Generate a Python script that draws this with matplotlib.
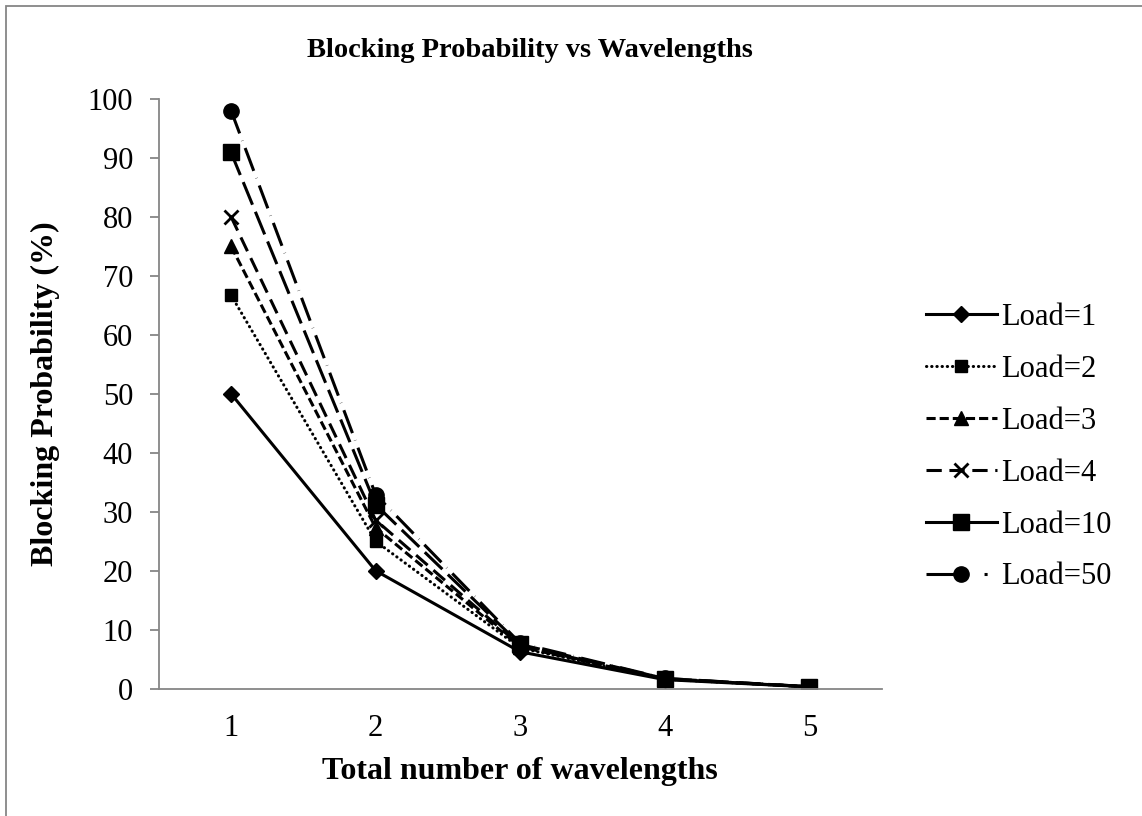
import matplotlib
matplotlib.use("Agg")
import matplotlib.pyplot as plt
from matplotlib.patches import Rectangle

plt.rcParams['font.family'] = ['Liberation Serif', 'DejaVu Serif']

wavelengths = [1, 2, 3, 4, 5]
loads = ['Load=1', 'Load=2', 'Load=3', 'Load=4', 'Load=10', 'Load=50']

# blocking probability (%) per load, one value per wavelength count
load_1 = [50.0, 20.0, 6.25, 1.54, 0.31]
load_2 = [66.7, 25.0, 6.9, 1.60, 0.32]
load_3 = [75.0, 27.3, 7.1, 1.65, 0.33]
load_4 = [80.0, 28.6, 7.3, 1.68, 0.33]
load_10 = [90.9, 31.2, 7.5, 1.72, 0.34]
load_50 = [98.0, 32.9, 7.7, 1.75, 0.34]
series = [load_1, load_2, load_3, load_4, load_10, load_50]

styles = [
    dict(ls='-', marker='D', ms=8),
    dict(ls=(0, (0.1, 1.6)), dash_capstyle='round', marker='s', ms=8),
    dict(ls=(0, (3, 1.3)), marker='^', ms=10),
    dict(ls=(0, (5, 2.5)), marker='x', ms=10, mew=2),
    dict(ls=(0, (8, 2.5)), marker='s', ms=11),
    dict(ls=(0, (8, 2.5, 0.1, 2.5)), marker='o', ms=11),
]

fig = plt.figure(figsize=(11.42, 8.16), dpi=100)
ax = fig.add_axes([0.139, 0.156, 0.633, 0.723])

for name, vals, st in zip(loads, series, styles):
    ax.plot(wavelengths, vals, color='black', lw=2.2, label=name, **st)

gray = '#868686'
ax.set_xlim(0.5, 5.5)
ax.set_ylim(0, 100)
ax.set_yticks(range(0, 101, 10))
ax.set_xticks(wavelengths)
for s in ['top', 'right']:
    ax.spines[s].set_visible(False)
for s in ['left', 'bottom']:
    ax.spines[s].set_color(gray)
    ax.spines[s].set_linewidth(1.3)
ax.tick_params(axis='y', length=6.5, width=1.3, color=gray, labelsize=22, pad=12)
ax.tick_params(axis='x', length=0, labelsize=22, pad=18)

ax.set_xlabel('Total number of wavelengths', fontsize=23, fontweight='bold', labelpad=10)
ax.set_ylabel('Blocking Probability (%)', fontsize=23, fontweight='bold', labelpad=20)
fig.text(0.464, 0.930, 'Blocking Probability vs Wavelengths', ha='center', va='baseline',
         fontsize=20.5, fontweight='bold')

leg = fig.legend(loc='center left', bbox_to_anchor=(0.787, 0.452), frameon=False,
                 fontsize=22, handlelength=2.3, handletextpad=0.15, labelspacing=0.75)

# long dashes are longer than the legend sample, so those handles read differently
leg_lines = leg.get_lines()
leg_lines[4].set_linestyle('-')
leg_lines[5].set_linestyle((0, (12, 7, 1, 20)))

# outer chart border
fig.patches.append(Rectangle((6 / 1142, -0.1), 1.2, 1.1 - 6 / 816, transform=fig.transFigure,
                             fill=False, edgecolor=gray, lw=1.3))

fig.savefig('out.png', dpi=100)
